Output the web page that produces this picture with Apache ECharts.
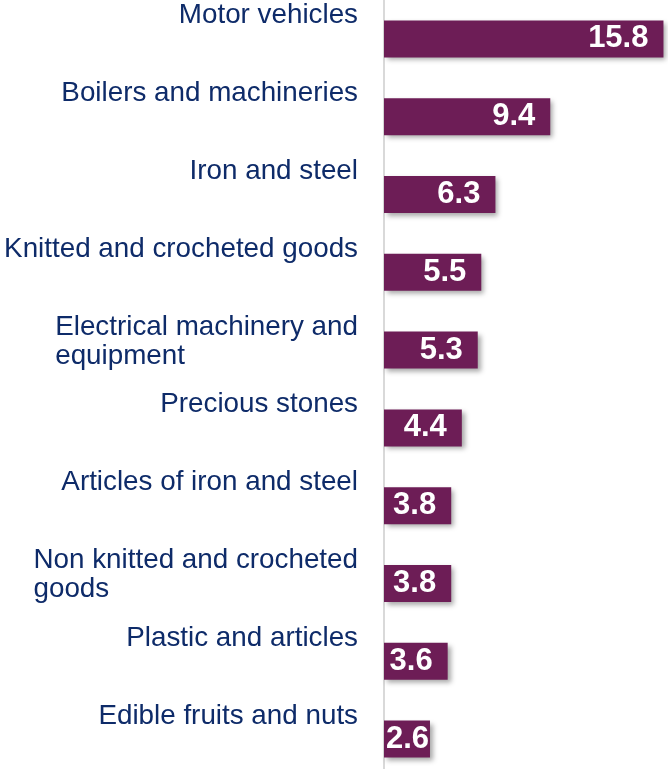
<!DOCTYPE html>
<html>
<head>
<meta charset="utf-8">
<script src="https://cdn.jsdelivr.net/npm/echarts@6/dist/echarts.min.js"></script>
<style>
html,body{margin:0;padding:0;background:#fff;}
#chart{width:668px;height:769px;}
</style>
</head>
<body>
<div id="chart"></div>
<script>
var categories = [
  'Motor vehicles',
  'Boilers and machineries',
  'Iron and steel',
  'Knitted and crocheted goods',
  'Electrical machinery and\nequipment',
  'Precious stones',
  'Articles of iron and steel',
  'Non knitted and crocheted\ngoods',
  'Plastic and articles',
  'Edible fruits and nuts'
];
var values = [15.8, 9.4, 6.3, 5.5, 5.3, 4.4, 3.8, 3.8, 3.6, 2.6];

var BAR_COLOR = '#6d1d56';
var TEXT_COLOR = '#0e2b69';
var FONT = 'Liberation Sans, Arial, sans-serif';

var chart = echarts.init(document.getElementById('chart'), null, {renderer: 'canvas'});

var barData = values.map(function (v) {
  var item = {value: v};
  if (v < 3) {
    item.label = {distance: 1};
  }
  return item;
});

var option = {
  animation: false,
  backgroundColor: '#ffffff',
  grid: [
    {left: 384, top: 0, width: 283, height: 778, outerBoundsMode: 'none', containLabel: false},
    {left: 384, top: -38, width: 283, height: 778, outerBoundsMode: 'none', containLabel: false}
  ],
  xAxis: [
    {gridIndex: 0, type: 'value', min: 0, max: 16, show: false},
    {gridIndex: 1, type: 'value', min: 0, max: 16, show: false}
  ],
  yAxis: [
    {
      gridIndex: 0,
      type: 'category',
      data: categories,
      inverse: true,
      axisLine: {show: true, lineStyle: {color: '#d9d9d9', width: 2}},
      axisTick: {show: false},
      axisLabel: {show: false},
      splitLine: {show: false}
    },
    {
      gridIndex: 1,
      type: 'category',
      data: categories,
      inverse: true,
      axisLine: {show: false},
      axisTick: {show: false},
      splitLine: {show: false},
      axisLabel: {
        show: true,
        margin: 26,
        verticalAlign: 'top',
        fontSize: 27.8,
        lineHeight: 29.5,
        fontFamily: FONT,
        color: TEXT_COLOR,
        formatter: function (val) {
          return val.split('\n').map(function (s) { return '{l|' + s + '}'; }).join('\n');
        },
        rich: {
          l: {
            align: 'left',
            fontSize: 27.8,
            lineHeight: 29.5,
            fontFamily: FONT,
            color: TEXT_COLOR
          }
        }
      }
    }
  ],
  series: [
    {
      type: 'bar',
      xAxisIndex: 0,
      yAxisIndex: 0,
      data: barData,
      barWidth: 37,
      itemStyle: {
        color: BAR_COLOR,
        shadowColor: 'rgba(0,0,0,0.35)',
        shadowBlur: 5,
        shadowOffsetX: 3,
        shadowOffsetY: 3
      },
      label: {
        show: true,
        position: 'insideRight',
        distance: 15,
        color: '#ffffff',
        fontWeight: 'bold',
        fontSize: 31,
        fontFamily: FONT,
        formatter: function (p) { return p.value.toFixed(1); }
      }
    }
  ]
};

chart.setOption(option);
</script>
</body>
</html>
